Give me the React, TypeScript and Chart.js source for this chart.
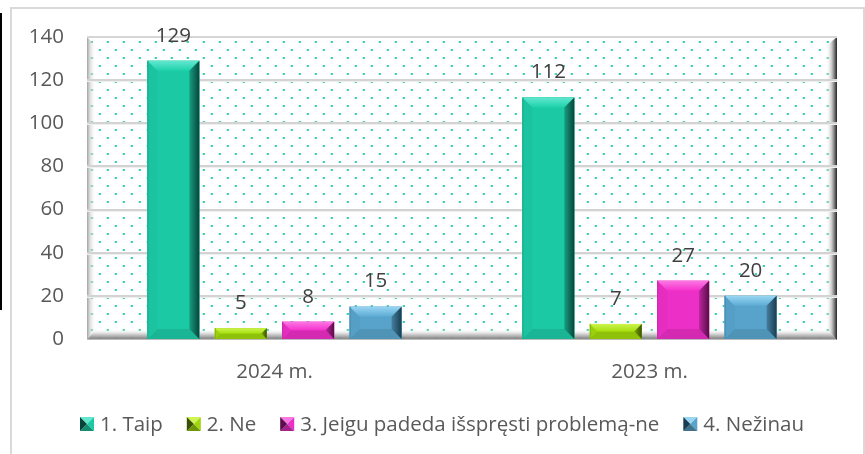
import React, { useEffect, useRef } from 'react';
import { Chart, registerables } from 'chart.js';

Chart.register(...registerables);

const categories = ['2024 m.', '2023 m.'];
const seriesNames = ['1. Taip', '2. Ne', '3. Jeigu padeda išspręsti problemą-ne', '4. Nežinau'];
const taip = [129, 112];
const ne = [5, 7];
const jeigu = [8, 27];
const nezinau = [15, 20];
const yMin = 0;
const yMax = 140;
const yStep = 20;

const palette = [
  { base: '#1cc9a5', light: '#63e8cf', dark: '#06453a' },
  { base: '#9fd60c', light: '#cdf450', dark: '#3a5200' },
  { base: '#ec2fc6', light: '#fb78e3', dark: '#5a0c4b' },
  { base: '#58a3cb', light: '#98d6f4', dark: '#183d52' },
];

const FONT = '"Open Sans", "Liberation Sans", sans-serif';
const FSIZE = 20.5;

function shade(hex: string, f: number) {
  const n = parseInt(hex.slice(1), 16);
  const r = Math.min(255, Math.round(((n >> 16) & 255) * f));
  const g = Math.min(255, Math.round(((n >> 8) & 255) * f));
  const b = Math.min(255, Math.round((n & 255) * f));
  return `rgb(${r},${g},${b})`;
}

function poly(ctx: CanvasRenderingContext2D, pts: number[][], fill: any) {
  ctx.beginPath();
  ctx.moveTo(pts[0][0], pts[0][1]);
  for (let i = 1; i < pts.length; i++) ctx.lineTo(pts[i][0], pts[i][1]);
  ctx.closePath();
  ctx.fillStyle = fill;
  ctx.fill();
}

function drawBevelBar(ctx: CanvasRenderingContext2D, L: number, T: number, R: number, B: number, c: any) {
  const w = R - L;
  const h = B - T;
  if (h <= 0) return;
  const bb = Math.min(10, w / 2, h / 2);
  ctx.fillStyle = c.base;
  ctx.fillRect(L, T, w, h);
  // bottom
  poly(ctx, [[L, B], [R, B], [R - bb, B - bb], [L + bb, B - bb]], shade(c.base, 0.9));
  // left
  poly(ctx, [[L, T], [L + bb, T + bb], [L + bb, B - bb], [L, B]], shade(c.base, 0.97));
  // top
  let g = ctx.createLinearGradient(0, T, 0, T + bb);
  g.addColorStop(0, c.light);
  g.addColorStop(1, shade(c.base, 1.04));
  poly(ctx, [[L, T], [R, T], [R - bb, T + bb], [L + bb, T + bb]], g);
  // right
  g = ctx.createLinearGradient(R - bb, 0, R, 0);
  g.addColorStop(0, shade(c.base, 0.78));
  g.addColorStop(1, c.dark);
  poly(ctx, [[R, T], [R, B], [R - bb, B - bb], [R - bb, T + bb]], g);
  // thin left edge
  ctx.fillStyle = shade(c.base, 0.85);
  ctx.fillRect(L, T, 1, h);
}

function drawLegendBox(ctx: CanvasRenderingContext2D, x: number, y: number, s: number, c: any) {
  const cx = x + s / 2, cy = y + s / 2;
  poly(ctx, [[x, y], [x + s, y], [cx, cy]], c.light);
  poly(ctx, [[x + s, y], [x + s, y + s], [cx, cy]], c.base);
  poly(ctx, [[x, y + s], [x + s, y + s], [cx, cy]], shade(c.base, 0.7));
  poly(ctx, [[x, y], [x, y + s], [cx, cy]], c.dark);
}

function makePattern(ctx: CanvasRenderingContext2D) {
  const t = document.createElement('canvas');
  t.width = 16;
  t.height = 16;
  const c = t.getContext('2d')!;
  c.fillStyle = '#ffffff';
  c.fillRect(0, 0, 16, 16);
  c.fillStyle = 'rgba(40,200,170,0.85)';
  c.fillRect(3, 1, 2, 2);
  c.fillRect(11, 9, 2, 2);
  c.fillStyle = 'rgba(40,200,170,0.3)';
  c.fillRect(2, 1, 1, 2);
  c.fillRect(10, 9, 1, 2);
  return ctx.createPattern(t, 'repeat');
}

const decorPlugin = {
  id: 'decor',
  beforeDraw(chart: any) {
    const ctx: CanvasRenderingContext2D = chart.ctx;
    ctx.save();
    ctx.fillStyle = '#ffffff';
    ctx.fillRect(0, 0, chart.width, chart.height);
    ctx.fillStyle = '#000000';
    ctx.fillRect(0, 13, 2, 297);
    ctx.strokeStyle = '#d9d9d9';
    ctx.lineWidth = 2;
    ctx.strokeRect(11, 8, 853, 460);
    ctx.restore();
  },
  beforeDatasetsDraw(chart: any) {
    const ctx: CanvasRenderingContext2D = chart.ctx;
    const a = chart.chartArea;
    const L = a.left, T = a.top, R = a.right, B = a.bottom + 1;
    ctx.save();
    const pat = makePattern(ctx);
    ctx.fillStyle = pat as any;
    ctx.fillRect(L, T, R - L, B - T);
    const bw = 9;
    let g = ctx.createLinearGradient(L, 0, L + bw, 0);
    g.addColorStop(0, 'rgba(150,150,150,0.9)');
    g.addColorStop(0.3, 'rgba(200,200,200,0.7)');
    g.addColorStop(1, 'rgba(255,255,255,0)');
    poly(ctx, [[L, T], [L + bw, T + bw], [L + bw, B - bw], [L, B]], g);
    g = ctx.createLinearGradient(0, B - bw - 2, 0, B);
    g.addColorStop(0, 'rgba(255,255,255,0)');
    g.addColorStop(0.5, 'rgba(190,190,190,0.8)');
    g.addColorStop(0.85, 'rgba(130,130,130,0.95)');
    g.addColorStop(1, 'rgba(210,210,210,1)');
    poly(ctx, [[L, B], [R, B], [R - bw - 2, B - bw - 2], [L + bw, B - bw - 2]], g);
    g = ctx.createLinearGradient(R - bw - 2, 0, R, 0);
    g.addColorStop(0, 'rgba(255,255,255,0)');
    g.addColorStop(0.5, 'rgba(190,190,190,0.8)');
    g.addColorStop(0.85, 'rgba(90,90,90,1)');
    g.addColorStop(1, 'rgba(40,40,40,1)');
    poly(ctx, [[R, T], [R, B], [R - bw - 2, B - bw - 2], [R - bw - 2, T + bw]], g);
    ctx.fillStyle = '#d6d6d6';
    ctx.fillRect(L, T - 1, R - L, 2);
    const ys = chart.scales.y;
    for (let v = yMin + yStep; v < yMax; v += yStep) {
      const y = Math.round(ys.getPixelForValue(v));
      ctx.fillStyle = '#d3d3d3';
      ctx.fillRect(L, y - 1, R - L, 2);
      ctx.fillStyle = '#efefef';
      ctx.fillRect(L, y + 1, R - L, 1);
    }
    ctx.restore();
  },
  afterDatasetsDraw(chart: any) {
    const ctx: CanvasRenderingContext2D = chart.ctx;
    ctx.save();
    chart.data.datasets.forEach((ds: any, i: number) => {
      const meta = chart.getDatasetMeta(i);
      meta.data.forEach((el: any, j: number) => {
        const p = el.getProps(['x', 'y', 'base', 'width'], true);
        const L = p.x - p.width / 2, R = p.x + p.width / 2;
        drawBevelBar(ctx, L, p.y, R, p.base, palette[i]);
        ctx.fillStyle = '#404040';
        ctx.font = `${FSIZE}px ${FONT}`;
        ctx.textAlign = 'center';
        ctx.textBaseline = 'middle';
        ctx.fillText(String(ds.data[j]), p.x, p.y - 25);
      });
    });
    ctx.font = `${FSIZE}px ${FONT}`;
    ctx.textAlign = 'left';
    ctx.textBaseline = 'middle';
    const box = 14, gapBox = 6, gapItem = 24;
    const widths = seriesNames.map((s) => ctx.measureText(s).width);
    const total = widths.reduce((a, w) => a + box + gapBox + w, 0) + gapItem * (seriesNames.length - 1);
    let x = 442 - total / 2;
    const cy = 424;
    seriesNames.forEach((s, i) => {
      drawLegendBox(ctx, x, cy - box / 2, box, palette[i]);
      ctx.fillStyle = '#595959';
      ctx.fillText(s, x + box + gapBox, cy + 1);
      x += box + gapBox + widths[i] + gapItem;
    });
    ctx.restore();
  },
};

export default function App() {
  const ref = useRef<HTMLCanvasElement>(null);
  useEffect(() => {
    document.body.style.margin = '0';
    const seriesData = [taip, ne, jeigu, nezinau];
    const chart = new Chart(ref.current!, {
      type: 'bar',
      data: {
        labels: categories,
        datasets: seriesData.map((d, i) => ({
          label: seriesNames[i],
          data: d,
          backgroundColor: palette[i].base,
          borderWidth: 0,
          categoryPercentage: 0.719,
          barPercentage: 0.77,
        })),
      },
      options: {
        animation: false,
        responsive: true,
        maintainAspectRatio: false,
        layout: { padding: { top: 37, right: 28, bottom: 55, left: 0 } },
        plugins: { legend: { display: false }, tooltip: { enabled: false } },
        scales: {
          x: {
            grid: { display: false, drawTicks: false },
            border: { display: false },
            ticks: { color: '#595959', font: { family: FONT, size: FSIZE }, padding: 21 },
            afterFit: (s: any) => { s.height = 60; },
          },
          y: {
            min: yMin,
            max: yMax,
            grid: { display: false, drawTicks: false },
            border: { display: false },
            ticks: { stepSize: yStep, color: '#595959', font: { family: FONT, size: FSIZE }, padding: 23 },
            afterFit: (s: any) => { s.width = 87; },
          },
        },
      },
      plugins: [decorPlugin],
    });
    return () => chart.destroy();
  }, []);
  return (
    <div style={{ width: 865, height: 454, position: 'relative' }}>
      <canvas ref={ref} />
    </div>
  );
}
